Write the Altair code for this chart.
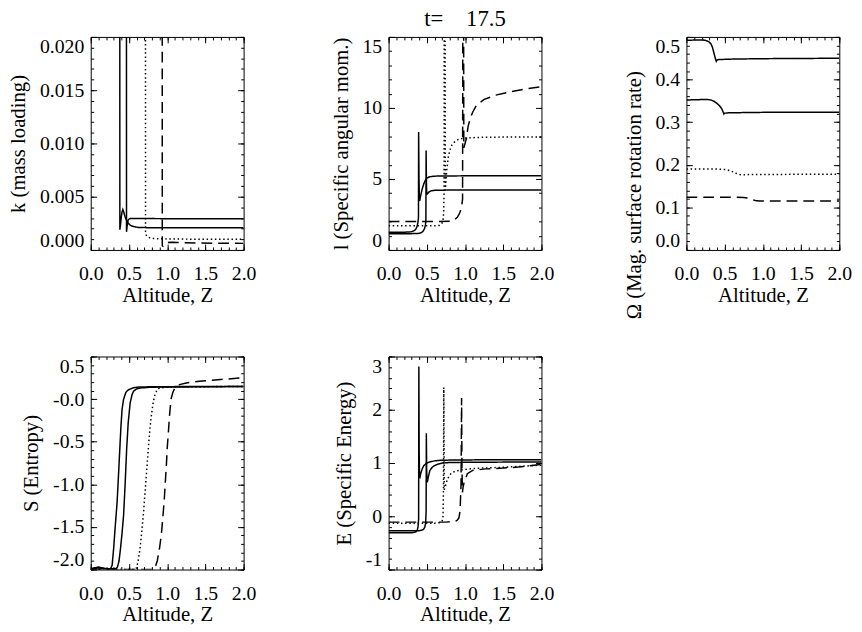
import json

import altair as alt
import pandas as pd

FONT = "Liberation Serif, Times New Roman, serif"
W, H = 155, 216
MAJOR_LEN, MINOR_LEN = 6, 3

# ---- shared altitude axis -------------------------------------------------
Z_TICKS = [0.0, 0.5, 1.0, 1.5, 2.0]
Z_LABELS = ["0.0", "0.5", "1.0", "1.5", "2.0"]
Z_MINOR = [round(0.1 * i, 1) for i in range(21)]

STYLES = ["solid", "dotted", "dashed"]
DASHES = [[1, 0], [1.5, 2.7], [11, 6]]

# ---- k (mass loading) ------------------------------------------------------
K_TICKS = [0.0, 0.005, 0.01, 0.015, 0.02]
K_LABELS = ["0.000", "0.005", "0.010", "0.015", "0.020"]
K_MINOR = [round(0.001 * i, 3) for i in range(21)]

KA_Z = [0.378, 0.381, 0.39, 0.40, 0.41, 0.42, 0.43, 0.45, 0.48, 0.52, 0.56, 0.62, 0.8, 2.0]
KA_V = [0.08, 0.0019, 0.0024, 0.0031, 0.0036, 0.0038, 0.0036, 0.0031, 0.0026, 0.0023,
        0.0022, 0.00212, 0.00208, 0.00208]
KB_Z = [0.465, 0.468, 0.474, 0.48, 0.49, 0.50, 0.52, 0.55, 0.6, 1.0, 2.0]
KB_V = [0.08, 0.0017, 0.0021, 0.0025, 0.0028, 0.0029, 0.00295, 0.00296, 0.00295,
        0.00294, 0.00294]
KC_Z = [0.714, 0.717, 0.725, 0.74, 0.77, 0.82, 0.9, 1.2, 2.0]
KC_V = [0.08, 0.0017, 0.0014, 0.00125, 0.00115, 0.00108, 0.00105, 0.00102, 0.00100]
KD_Z = [0.933, 0.936, 0.945, 0.96, 0.98, 1.0, 1.05, 1.2, 1.6, 2.0]
KD_V = [0.08, 0.0004, 0.00035, 0.00045, 0.0006, 0.0007, 0.00072, 0.00068, 0.00064, 0.00062]

# ---- l (specific angular momentum) -----------------------------------------
L_TICKS = [0, 5, 10, 15]
L_LABELS = ["0", "5", "10", "15"]
L_MINOR = list(range(16))

LA_Z = [0.0, 0.2, 0.30, 0.34, 0.36, 0.375, 0.385, 0.391, 0.393, 0.398, 0.403, 0.408,
        0.415, 0.425, 0.44, 0.46, 0.48, 0.50, 0.53, 0.57, 0.62, 0.7, 1.0, 2.0]
LA_V = [1.25, 1.25, 1.28, 1.38, 1.5, 1.7, 2.0, 2.3, 8.3, 5.0, 3.5, 3.5, 3.7, 3.95, 4.3,
        4.65, 4.9, 5.05, 5.14, 5.18, 5.2, 5.21, 5.22, 5.22]
LB_Z = [0.0, 0.3, 0.40, 0.43, 0.45, 0.47, 0.482, 0.488, 0.491, 0.495, 0.499, 0.505,
        0.515, 0.53, 0.56, 0.6, 0.8, 2.0]
LB_V = [1.15, 1.15, 1.17, 1.22, 1.32, 1.5, 1.75, 2.1, 7.0, 4.6, 4.0, 3.95, 4.0, 4.1,
        4.17, 4.2, 4.22, 4.22]
LC_Z = [0.0, 0.6, 0.66, 0.69, 0.71, 0.72, 0.726, 0.73, 0.735, 0.742, 0.75, 0.76, 0.78,
        0.80, 0.83, 0.87, 0.92, 1.0, 1.2, 1.5, 2.0]
LC_V = [1.7, 1.7, 1.72, 1.8, 2.0, 2.6, 4.0, 30.0, 30.0, 4.2, 4.8, 5.6, 6.5, 7.0, 7.4,
        7.65, 7.8, 7.88, 7.93, 7.95, 7.95]
LD_Z = [0.0, 0.6, 0.8, 0.85, 0.9, 0.93, 0.955, 0.968, 0.974, 0.978, 0.984, 0.99, 1.0,
        1.02, 1.04, 1.07, 1.1, 1.15, 1.25, 1.4, 1.6, 1.8, 2.0]
LD_V = [2.0, 2.0, 2.03, 2.08, 2.3, 2.6, 3.0, 3.6, 30.0, 30.0, 7.2, 7.3, 7.5, 7.9, 8.7,
        9.3, 9.7, 10.2, 10.6, 10.9, 11.15, 11.35, 11.5]

# ---- Omega (magnetic surface rotation rate) --------------------------------
O_TICKS = [0.0, 0.1, 0.2, 0.3, 0.4, 0.5]
O_LABELS = ["0.0", "0.1", "0.2", "0.3", "0.4", "0.5"]
O_MINOR = [round(0.02 * i, 2) for i in range(26)]

OA_Z = [0.0, 0.15, 0.21, 0.25, 0.29, 0.32, 0.34, 0.36, 0.38, 0.39, 0.40, 0.43, 0.6, 1.0, 2.0]
OA_V = [0.492, 0.493, 0.493, 0.492, 0.489, 0.484, 0.476, 0.462, 0.448, 0.443, 0.446,
        0.447, 0.448, 0.449, 0.45]
OB_Z = [0.0, 0.2, 0.28, 0.32, 0.36, 0.40, 0.43, 0.46, 0.48, 0.49, 0.50, 0.55, 1.0, 2.0]
OB_V = [0.352, 0.353, 0.353, 0.352, 0.349, 0.344, 0.339, 0.332, 0.324, 0.319, 0.321,
        0.322, 0.323, 0.323]
OC_Z = [0.0, 0.4, 0.5, 0.55, 0.6, 0.65, 0.7, 0.73, 0.8, 2.0]
OC_V = [0.19, 0.19, 0.189, 0.187, 0.184, 0.18, 0.177, 0.176, 0.177, 0.178]
OD_Z = [0.0, 0.6, 0.75, 0.8, 0.85, 0.9, 0.95, 1.0, 2.0]
OD_V = [0.124, 0.124, 0.123, 0.122, 0.119, 0.116, 0.115, 0.115, 0.115]

# ---- S (entropy) -----------------------------------------------------------
S_TICKS = [-2.0, -1.5, -1.0, -0.5, 0.0, 0.5]
S_LABELS = ["-2.0", "-1.5", "-1.0", "-0.5", "-0.0", "0.5"]
S_MINOR = [round(-2.0 + 0.1 * i, 1) for i in range(26)]

SA_Z = [0.0, 0.05, 0.1, 0.15, 0.2, 0.26, 0.28, 0.30, 0.32, 0.345, 0.36, 0.374, 0.385,
        0.396, 0.41, 0.43, 0.46, 0.494, 0.55, 0.6, 0.8, 1.2, 2.0]
SA_V = [-1.99, -1.98, -1.97, -1.98, -1.99, -1.99, -1.95, -1.75, -1.5, -1.21, -0.95,
        -0.70, -0.5, -0.31, -0.12, 0.0, 0.08, 0.11, 0.13, 0.14, 0.145, 0.147, 0.148]
SB_Z = [0.0, 0.05, 0.1, 0.15, 0.2, 0.33, 0.35, 0.37, 0.39, 0.41, 0.43, 0.45, 0.47, 0.49,
        0.516, 0.54, 0.56, 0.6, 0.645, 0.8, 2.0]
SB_V = [-1.99, -1.99, -1.98, -1.99, -1.99, -1.99, -1.97, -1.9, -1.75, -1.57, -1.36, -1.0,
        -0.585, -0.28, -0.043, 0.05, 0.093, 0.12, 0.13, 0.14, 0.148]
SC_Z = [0.0, 0.58, 0.60, 0.62, 0.645, 0.665, 0.688, 0.71, 0.73, 0.75, 0.774, 0.795,
        0.817, 0.84, 0.87, 0.9, 1.0, 1.2, 2.0]
SC_V = [-2.0, -2.0, -1.98, -1.9, -1.75, -1.58, -1.36, -1.1, -0.86, -0.62, -0.35, -0.18,
        -0.04, 0.055, 0.11, 0.13, 0.14, 0.145, 0.148]
SD_Z = [0.0, 0.82, 0.84, 0.87, 0.90, 0.925, 0.946, 0.962, 0.976, 0.99, 1.0, 1.015, 1.03,
        1.05, 1.075, 1.10, 1.16, 1.25, 1.42, 1.7, 2.0]
SD_V = [-2.0, -2.0, -1.98, -1.9, -1.75, -1.58, -1.36, -1.18, -0.97, -0.77, -0.585, -0.4,
        -0.2, 0.0, 0.08, 0.13, 0.17, 0.19, 0.21, 0.23, 0.25]

# ---- E (specific energy) ---------------------------------------------------
E_TICKS = [-1, 0, 1, 2, 3]
E_LABELS = ["-1", "0", "1", "2", "3"]
E_MINOR = [round(-1 + 0.2 * i, 1) for i in range(21)]

EA_Z = [0.0, 0.3, 0.34, 0.36, 0.375, 0.385, 0.393, 0.396, 0.40, 0.405, 0.41, 0.42, 0.44,
        0.46, 0.5, 0.54, 0.6, 0.67, 0.8, 1.2, 2.0]
EA_V = [-0.31, -0.31, -0.3, -0.29, -0.26, -0.2, -0.05, 2.81, 1.2, 0.74, 0.73, 0.8, 0.89,
        0.95, 1.0, 1.02, 1.04, 1.05, 1.055, 1.06, 1.06]
EB_Z = [0.0, 0.4, 0.44, 0.46, 0.475, 0.485, 0.491, 0.494, 0.498, 0.503, 0.51, 0.52, 0.54,
        0.57, 0.6, 0.65, 0.71, 0.8, 1.2, 2.0]
EB_V = [-0.27, -0.27, -0.26, -0.24, -0.2, -0.12, 0.1, 1.56, 0.9, 0.64, 0.66, 0.74, 0.86,
        0.92, 0.95, 0.98, 1.0, 1.01, 1.015, 1.02]
EC_Z = [0.0, 0.6, 0.68, 0.70, 0.712, 0.718, 0.722, 0.728, 0.735, 0.75, 0.77, 0.795, 0.82,
        0.88, 1.0, 1.14, 1.5, 2.0]
EC_V = [-0.13, -0.13, -0.12, -0.09, 0.0, 0.5, 2.42, 0.5, 0.52, 0.6, 0.7, 0.76, 0.81,
        0.85, 0.88, 0.9, 0.92, 0.96]
ED_Z = [0.0, 0.75, 0.8, 0.85, 0.88, 0.9, 0.92, 0.935, 0.948, 0.955, 0.96, 0.966, 0.975,
        0.99, 1.01, 1.03, 1.1, 1.27, 1.5, 1.7, 2.0]
ED_V = [-0.11, -0.11, -0.105, -0.1, -0.09, -0.07, -0.03, 0.1, 0.6, 2.22, 0.9, 0.45, 0.55,
        0.65, 0.71, 0.8, 0.86, 0.89, 0.905, 0.925, 0.975]


def label_expr(ticks, labels):
    """Map each tick value to its printed label."""
    return f"{json.dumps(labels)}[indexof({json.dumps(ticks)}, datum.value)]"


def tick_layer(data, x_orient, y_orient, x_vals, y_vals, length):
    """Invisible layer that only carries inward-pointing tick marks."""
    size = {"expr": str(-length)}
    return alt.Chart(data).mark_point(opacity=0, clip=True).encode(
        x=alt.X("z:Q", axis=alt.Axis(orient=x_orient, values=x_vals, labels=False,
                                     domain=False, grid=False, title=None, tickSize=size)),
        y=alt.Y("v:Q", axis=alt.Axis(orient=y_orient, values=y_vals, labels=False,
                                     domain=False, grid=False, title=None, tickSize=size)),
    )


def panel(series, y_title, y_dom, y_ticks, y_labels, y_minor, title=None, title_y=None):
    rows = []
    for sid, (zs, vs, style) in enumerate(series):
        for j, (z, v) in enumerate(zip(zs, vs)):
            rows.append({"z": z, "v": v, "sid": sid, "style": style, "j": j})
    df = pd.DataFrame(rows)

    y_axis = dict(orient="left", values=y_ticks, labelExpr=label_expr(y_ticks, y_labels),
                  ticks=False, domain=False, grid=False, labelFlush=True, labelPadding=7,
                  title=y_title, titlePadding=11)
    if title_y is not None:
        y_axis["titleY"] = title_y

    lines = alt.Chart(df).mark_line(clip=True, color="black", strokeWidth=1.5).encode(
        x=alt.X("z:Q", scale=alt.Scale(domain=[0, 2], nice=False, zero=False),
                axis=alt.Axis(orient="bottom", values=Z_TICKS,
                              labelExpr=label_expr(Z_TICKS, Z_LABELS), ticks=False,
                              domain=False, grid=False, labelFlush=False, labelPadding=14,
                              title="Altitude, Z", titlePadding=1)),
        y=alt.Y("v:Q", scale=alt.Scale(domain=y_dom, nice=False, zero=False),
                axis=alt.Axis(**y_axis)),
        detail="sid:N",
        order="j:Q",
        strokeDash=alt.StrokeDash("style:N", scale=alt.Scale(domain=STYLES, range=DASHES),
                                  legend=None),
    )
    anchor = df.iloc[[1]]
    layers = [
        lines,
        tick_layer(anchor, "bottom", "left", Z_TICKS, y_ticks, MAJOR_LEN),
        tick_layer(anchor, "top", "right", Z_TICKS, y_ticks, MAJOR_LEN),
        tick_layer(anchor, "bottom", "left", Z_MINOR, y_minor, MINOR_LEN),
        tick_layer(anchor, "top", "right", Z_MINOR, y_minor, MINOR_LEN),
    ]
    chart = alt.layer(*layers).resolve_axis(x="independent", y="independent")
    chart = chart.properties(width=W, height=H)
    if title:
        chart = chart.properties(title=alt.TitleParams(
            text=title, font=FONT, fontSize=23, fontWeight="normal", color="black",
            frame="group", anchor="middle", baseline="alphabetic", offset=-12))
    return chart


p_k = panel([(KA_Z, KA_V, "solid"), (KB_Z, KB_V, "solid"),
             (KC_Z, KC_V, "dotted"), (KD_Z, KD_V, "dashed")],
            "k (mass loading)", [0, 0.02], K_TICKS, K_LABELS, K_MINOR)
p_l = panel([(LA_Z, LA_V, "solid"), (LB_Z, LB_V, "solid"),
             (LC_Z, LC_V, "dotted"), (LD_Z, LD_V, "dashed")],
            "l (Specific angular mom.)", [0, 15], L_TICKS, L_LABELS, L_MINOR,
            title="t=\u00a0\u00a0\u00a0\u00a017.5")
p_o = panel([(OA_Z, OA_V, "solid"), (OB_Z, OB_V, "solid"),
             (OC_Z, OC_V, "dotted"), (OD_Z, OD_V, "dashed")],
            "\u03a9 (Mag. surface rotation rate)", [0, 0.5], O_TICKS, O_LABELS, O_MINOR,
            title_y=160)
p_s = panel([(SA_Z, SA_V, "solid"), (SB_Z, SB_V, "solid"),
             (SC_Z, SC_V, "dotted"), (SD_Z, SD_V, "dashed")],
            "S (Entropy)", [-2.0, 0.5], S_TICKS, S_LABELS, S_MINOR)
p_e = panel([(EA_Z, EA_V, "solid"), (EB_Z, EB_V, "solid"),
             (EC_Z, EC_V, "dotted"), (ED_Z, ED_V, "dashed")],
            "E (Specific Energy)", [-1, 3], E_TICKS, E_LABELS, E_MINOR)

chart = (
    alt.concat(p_k, p_l, p_o, p_s, p_e, columns=3, bounds="flush",
               spacing={"row": 108, "column": 147})
    .properties(background="white", padding={"left": 7, "top": 3, "right": 10, "bottom": 10})
    .configure_view(stroke="black", strokeWidth=1)
    .configure_axis(labelFont=FONT, labelFontSize=20, labelColor="black",
                    titleFont=FONT, titleFontSize=21, titleFontWeight="normal",
                    titleColor="black", tickColor="black", tickWidth=1)
)

chart.save("out.html", embed_options={"renderer": "svg", "actions": False})
